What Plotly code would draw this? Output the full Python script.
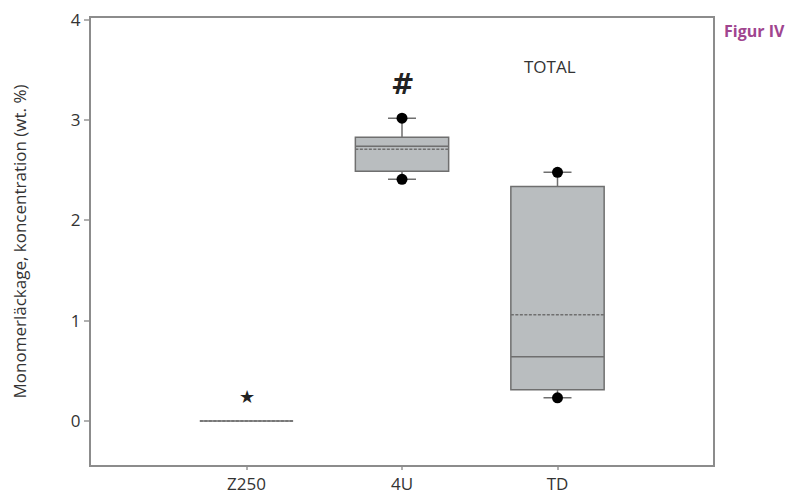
import plotly.graph_objects as go

categories = ["Z250", "4U", "TD"]
q1 = [0.0, 2.49, 0.31]
median = [0.0, 2.74, 0.64]
q3 = [0.0, 2.83, 2.34]
mean = [0.0, 2.71, 1.06]
lowerfence = [0.0, 2.41, 0.23]
upperfence = [0.0, 3.02, 2.48]

dot_x = ["4U", "4U", "TD", "TD"]
dot_y = [3.02, 2.41, 2.48, 0.23]

sig_x = ["Z250", "4U"]
sig_y = [0.24, 3.36]
sig_text = ["★", "#"]

y_ticks = [0, 1, 2, 3, 4]

AX = "#8c8c8c"
TXT = "#333333"
FONT = "Open Sans"

fig = go.Figure()
fig.add_trace(go.Box(
    x=categories, q1=q1, median=median, q3=q3, mean=mean,
    lowerfence=lowerfence, upperfence=upperfence,
    boxmean=True, boxpoints=False, width=0.6, whiskerwidth=0.3,
    fillcolor="#b9bdbf", line=dict(color="#6f6f6f", width=1.5),
    showlegend=False, hoverinfo="skip",
))
fig.add_trace(go.Scatter(
    x=dot_x, y=dot_y, mode="markers",
    marker=dict(color="black", size=11), showlegend=False, hoverinfo="skip",
))

for sx, sy, st in zip(sig_x, sig_y, sig_text):
    fig.add_annotation(x=sx, y=sy, text="<b>" + st + "</b>" if st == "#" else st, showarrow=False,
                       font=dict(family="DejaVu Sans", size=28 if st == "#" else 18, color="#222222"))

fig.add_annotation(x=1.95, y=3.54, text="TOTAL", showarrow=False,
                   font=dict(family=FONT, size=17, color=TXT))
fig.add_annotation(xref="paper", yref="paper", x=1.015, y=1.0, xanchor="left", yanchor="top",
                   text="<b>Figur IV</b>", showarrow=False,
                   font=dict(family=FONT, size=16, color="#a0458f"))

fig.update_layout(
    width=800, height=495,
    margin=dict(l=83, r=95, t=10, b=38),
    paper_bgcolor="white", plot_bgcolor="white",
    font=dict(family=FONT, size=17, color=TXT),
)
fig.update_xaxes(
    type="category", categoryorder="array", categoryarray=categories,
    range=[-1, 3], showgrid=False, zeroline=False, automargin=False,
    showline=True, linecolor=AX, linewidth=2, mirror=True,
    ticks="outside", tickcolor="#b0b0b0", ticklen=3, tickwidth=2,
    ticklabeloverflow="allow",
    tickfont=dict(family=FONT, size=17, color=TXT),
)
fig.update_yaxes(
    range=[-0.44, 4.02], tickvals=y_ticks, showgrid=False, zeroline=False, automargin=False,
    showline=True, linecolor=AX, linewidth=2, mirror=True,
    ticks="outside", tickcolor="#b0b0b0", ticklen=5, tickwidth=2,
    ticklabeloverflow="allow",
    tickfont=dict(family=FONT, size=17, color=TXT),
    title=dict(text="Monomerläckage, koncentration (wt. %)", standoff=45,
               font=dict(family=FONT, size=17, color=TXT)),
)

fig.write_html("out.html")
